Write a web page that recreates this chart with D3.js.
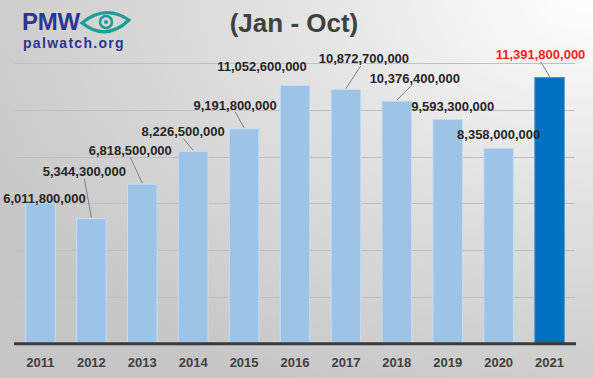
<!DOCTYPE html>
<html>
<head>
<meta charset="utf-8">
<script src="https://cdn.jsdelivr.net/npm/d3@7"></script>
<style>
  html, body { margin: 0; padding: 0; }
  body { width: 593px; height: 378px; overflow: hidden; }
  svg { display: block; font-family: "Liberation Sans", Arial, sans-serif; }
</style>
</head>
<body>
<div id="chart"></div>
<script>
// data
var years  = ["2011", "2012", "2013", "2014", "2015", "2016", "2017", "2018", "2019", "2020", "2021"];
var values = [6011800000, 5344300000, 6818500000, 8226500000, 9191800000, 11052600000,
              10872700000, 10376400000, 9593300000, 8358000000, 11391800000];
var title_text = "(Jan - Oct)";
var y_ticks = [2e9, 4e9, 6e9, 8e9, 10e9, 12e9];

// label placement (offset from top centre of each bar) and whether a leader line is drawn
var label_dx     = [4, -7, -12, -10, -9, -33, 18, 18, 5, 0, -9];
var label_dy     = [-5, -47, -34, -20, -24, -19, -31, -23, -13, -14, -23];
var label_leader = [false, true, true, true, true, false, true, true, false, false, true];

var width_chart  = 593;
var height_chart = 378;
var fmt = d3.format(",");

var svg = d3.select("#chart").append("svg")
  .attr("width", width_chart)
  .attr("height", height_chart);

// background gradient, white at top right going grey toward bottom left
var defs = svg.append("defs");
var grad = defs.append("radialGradient")
  .attr("id", "bg")
  .attr("cx", "100%").attr("cy", "0%")
  .attr("r", "115%")
  .attr("gradientUnits", "objectBoundingBox");
grad.append("stop").attr("offset", "0%").attr("stop-color", "#ffffff");
grad.append("stop").attr("offset", "45%").attr("stop-color", "#e2e2e2");
grad.append("stop").attr("offset", "100%").attr("stop-color", "#c6c6c6");

svg.append("rect")
  .attr("width", width_chart)
  .attr("height", height_chart)
  .attr("fill", "url(#bg)");

var x = d3.scaleBand()
  .domain(years)
  .range([15, 575])
  .paddingInner(0.42)
  .paddingOuter(0.21);

var y = d3.scaleLinear()
  .domain([0, 12e9])
  .range([343.3, 63.3]);

// gridlines
svg.append("g")
  .selectAll("line")
  .data(y_ticks)
  .join("line")
  .attr("x1", 15)
  .attr("x2", 575)
  .attr("y1", function (d) { return Math.round(y(d)) + 0.5; })
  .attr("y2", function (d) { return Math.round(y(d)) + 0.5; })
  .attr("stroke", "#c0c0c0")
  .attr("stroke-width", 1);

// bars
svg.append("g")
  .selectAll("rect")
  .data(values)
  .join("rect")
  .attr("x", function (d, i) { return x(years[i]); })
  .attr("y", function (d) { return y(d); })
  .attr("width", x.bandwidth())
  .attr("height", function (d) { return y(0) - y(d); })
  .attr("fill", function (d, i) { return i === years.length - 1 ? "#0070c0" : "#9dc3e6"; })
  .attr("stroke", function (d, i) { return i === years.length - 1 ? "#4a95d2" : "#c6dcf0"; })
  .attr("stroke-width", 1);

// baseline axis
svg.append("line")
  .attr("x1", 14).attr("x2", 576)
  .attr("y1", y(0) + 0.5).attr("y2", y(0) + 0.5)
  .attr("stroke", "#3a3a3a")
  .attr("stroke-width", 3);

// year labels
var axis = svg.append("g")
  .attr("transform", "translate(0," + (y(0) + 2) + ")")
  .call(d3.axisBottom(x).tickSize(0).tickPadding(12));
axis.select(".domain").remove();
axis.selectAll("text")
  .attr("fill", "#404040")
  .attr("font-size", "13px")
  .attr("font-weight", "bold")
  .attr("font-family", "\"Liberation Sans\", Arial, sans-serif");

// data labels and leader lines
var labels = svg.append("g");
values.forEach(function (v, i) {
  var cx = x(years[i]) + x.bandwidth() / 2;
  var top = y(v);
  var lx = cx + label_dx[i];
  var ly = top + label_dy[i];
  if (label_leader[i]) {
    labels.append("line")
      .attr("x1", lx + (label_dx[i] > 0 ? -3 : 0))
      .attr("y1", ly + 7)
      .attr("x2", cx)
      .attr("y2", top - 1)
      .attr("stroke", "#808080")
      .attr("stroke-width", 1);
  }
  labels.append("text")
    .attr("x", lx)
    .attr("y", ly)
    .attr("dy", "0.36em")
    .attr("text-anchor", "middle")
    .attr("font-size", "13px")
    .attr("font-weight", "bold")
    .attr("fill", i === years.length - 1 ? "#ff1f1f" : "#262626")
    .text(fmt(v));
});

// title
svg.append("text")
  .attr("x", 294)
  .attr("y", 32)
  .attr("text-anchor", "middle")
  .attr("font-size", "26px")
  .attr("font-weight", "bold")
  .attr("fill", "#404040")
  .text(title_text);

// PMW logo
var logo = svg.append("g");
logo.append("text")
  .attr("x", 22)
  .attr("y", 30)
  .attr("font-size", "24px")
  .attr("font-weight", "bold")
  .attr("fill", "#2e3592")
  .attr("letter-spacing", "-0.3px")
  .text("PMW");
logo.append("text")
  .attr("x", 23)
  .attr("y", 48)
  .attr("font-size", "14px")
  .attr("font-weight", "bold")
  .attr("fill", "#2e3592")
  .attr("letter-spacing", "1.3px")
  .text("palwatch.org");
// eye
logo.append("path")
  .attr("d", "M82,23 Q105,4 129,20 Q106,42 82,23 Z")
  .attr("fill", "none")
  .attr("stroke", "#1a9e96")
  .attr("stroke-width", 3.2);
logo.append("circle")
  .attr("cx", 106).attr("cy", 22).attr("r", 6)
  .attr("fill", "none")
  .attr("stroke", "#1a9e96")
  .attr("stroke-width", 2.5);
logo.append("circle")
  .attr("cx", 106).attr("cy", 22).attr("r", 2)
  .attr("fill", "#1a9e96");
</script>
</body>
</html>
